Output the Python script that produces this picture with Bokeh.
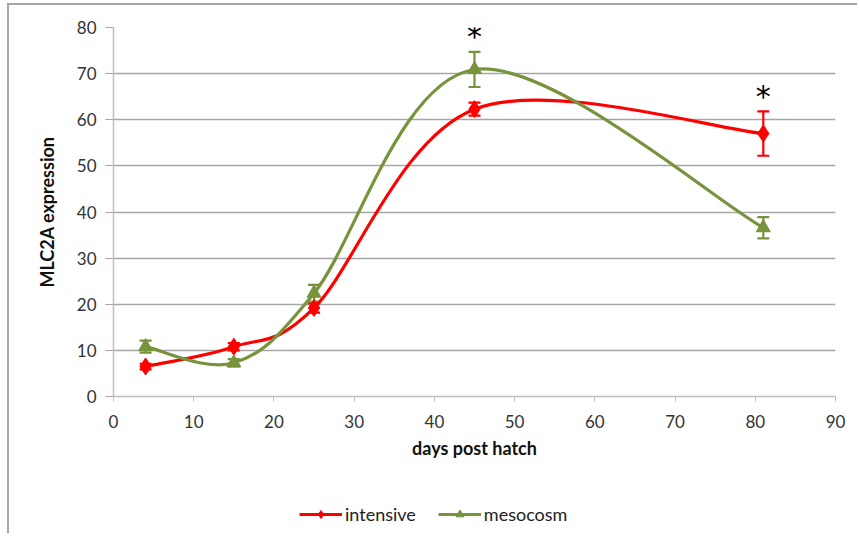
from bokeh.plotting import figure
from bokeh.layouts import column
from bokeh.models import ColumnDataSource, Whisker, TeeHead, Legend, LegendItem, FixedTicker
from bokeh.core.properties import value
from bokeh.embed import file_html
from bokeh.resources import INLINE

# ---- data ----
days = [4, 15, 25, 45, 81]
intensive = [6.5, 10.8, 19.2, 62.3, 57.0]
intensive_err = [0.6, 0.8, 1.0, 1.4, 4.8]
mesocosm = [10.8, 7.3, 22.4, 70.9, 36.6]
mesocosm_err = [1.3, 0.8, 1.8, 3.8, 2.3]
star_days = [45, 81]
star_level = [78.0, 65.0]
x_ticks = [0, 10, 20, 30, 40, 50, 60, 70, 80, 90]
y_ticks = [0, 10, 20, 30, 40, 50, 60, 70, 80]

RED = "#ff0000"
GREEN = "#77933c"
FONT = "Lato"


def excel_smooth(xs, ys):
    """Bezier control points like a spreadsheet 'smoothed line'."""
    n = len(xs)
    out = dict(x0=[], y0=[], x1=[], y1=[], cx0=[], cy0=[], cx1=[], cy1=[])
    for i in range(n - 1):
        xp, yp = (xs[i - 1], ys[i - 1]) if i > 0 else (xs[i], ys[i])
        xn, yn = (xs[i + 2], ys[i + 2]) if i + 2 < n else (xs[i + 1], ys[i + 1])
        out["x0"].append(xs[i]); out["y0"].append(ys[i])
        out["x1"].append(xs[i + 1]); out["y1"].append(ys[i + 1])
        out["cx0"].append(xs[i] + (xs[i + 1] - xp) / 6)
        out["cy0"].append(ys[i] + (ys[i + 1] - yp) / 6)
        out["cx1"].append(xs[i + 1] - (xn - xs[i]) / 6)
        out["cy1"].append(ys[i + 1] - (yn - ys[i]) / 6)
    return ColumnDataSource(out)


p = figure(width=848, height=466, x_range=(0, 90), y_range=(0, 80),
           output_backend="svg", toolbar_location=None,
           min_border_left=104, min_border_right=22, min_border_top=22,
           min_border_bottom=75)
p.outline_line_color = None
p.background_fill_color = "white"
p.border_fill_color = "white"

p.xgrid.grid_line_color = None
p.ygrid.grid_line_color = "#a6a6a6"
p.ygrid.grid_line_width = 1.5
p.xaxis.ticker = FixedTicker(ticks=x_ticks)
p.yaxis.ticker = FixedTicker(ticks=y_ticks)

for ax in (p.xaxis, p.yaxis):
    ax.axis_line_color = "#bfbfbf"
    ax.axis_line_width = 1.5
    ax.major_tick_line_color = "#bfbfbf"
    ax.major_tick_in = 0
    ax.minor_tick_line_color = None
    ax.major_label_text_font = FONT
    ax.major_label_text_font_size = "17px"
    ax.major_label_text_color = "#333333"
    ax.axis_label_text_font = FONT
    ax.axis_label_text_font_size = "18px"
    ax.axis_label_text_font_style = "bold"
    ax.axis_label_text_color = "#111111"
p.xaxis.major_tick_out = 5
p.yaxis.major_tick_out = 8
p.yaxis.major_tick_line_color = "#a6a6a6"
p.xaxis.axis_label = "days post hatch"
p.yaxis.axis_label = "MLC2A expression"
p.xaxis.major_label_standoff = 13
p.yaxis.major_label_standoff = 9
p.xaxis.axis_label_standoff = 6
p.yaxis.axis_label_standoff = 16

src_i = ColumnDataSource(dict(x=days, y=intensive,
                              lo=[v - e for v, e in zip(intensive, intensive_err)],
                              hi=[v + e for v, e in zip(intensive, intensive_err)]))
src_m = ColumnDataSource(dict(x=days, y=mesocosm,
                              lo=[v - e for v, e in zip(mesocosm, mesocosm_err)],
                              hi=[v + e for v, e in zip(mesocosm, mesocosm_err)]))

# smoothed lines
p.bezier(x0="x0", y0="y0", x1="x1", y1="y1", cx0="cx0", cy0="cy0",
         cx1="cx1", cy1="cy1", source=excel_smooth(days, intensive),
         line_color=RED, line_width=3.2)
p.bezier(x0="x0", y0="y0", x1="x1", y1="y1", cx0="cx0", cy0="cy0",
         cx1="cx1", cy1="cy1", source=excel_smooth(days, mesocosm),
         line_color=GREEN, line_width=3.2)

# error bars
for src, col in ((src_i, RED), (src_m, GREEN)):
    w = Whisker(source=src, base="x", lower="lo", upper="hi",
                line_color=col, line_width=2.2,
                upper_head=TeeHead(size=12, line_color=col, line_width=2.2),
                lower_head=TeeHead(size=12, line_color=col, line_width=2.2))
    p.add_layout(w)

p.scatter("x", "y", source=src_i, marker="diamond", size=17,
          fill_color=RED, line_color=RED)
p.scatter("x", "y", source=src_m, marker="triangle", size=14,
          fill_color=GREEN, line_color=GREEN)

# significance stars
p.text(x=star_days, y=star_level, text=["*", "*"], text_align="center",
       text_baseline="middle", text_font=value("DejaVu Sans"),
       text_font_size="30px", text_color="black")

# ---- legend strip below the chart (its ranges keep the data out of view) ----
lg = figure(width=848, height=62, x_range=(-200, -199), y_range=(-200, -199),
            output_backend="svg", toolbar_location=None,
            min_border_left=0, min_border_right=0, min_border_top=0,
            min_border_bottom=0)
lg.axis.visible = False
lg.grid.grid_line_color = None
lg.outline_line_color = None
lg.border_fill_color = "white"
lg_li = lg.line(days, intensive, line_color=RED, line_width=3.2)
lg_mi = lg.scatter(days, intensive, marker="diamond", size=17, fill_color=RED, line_color=RED)
lg_lm = lg.line(days, mesocosm, line_color=GREEN, line_width=3.2)
lg_mm = lg.scatter(days, mesocosm, marker="triangle", size=15, fill_color=GREEN, line_color=GREEN)

legend = Legend(items=[LegendItem(label="intensive", renderers=[lg_li, lg_mi]),
                       LegendItem(label="mesocosm", renderers=[lg_lm, lg_mm])],
                orientation="horizontal", location=(186, 8),
                glyph_width=43, glyph_height=20, spacing=22,
                label_text_font=FONT, label_text_font_size="18px",
                label_text_color="#222222", label_standoff=3,
                border_line_color=None, background_fill_alpha=0,
                margin=0, padding=4)
lg.add_layout(legend)

layout = column(p, lg, spacing=0)
layout.styles = {"border-top": "2px solid #a6a6a6", "border-left": "2px solid #a6a6a6",
                 "margin-left": "7px", "margin-top": "3px"}

open("out.html", "w").write(file_html(layout, INLINE))
